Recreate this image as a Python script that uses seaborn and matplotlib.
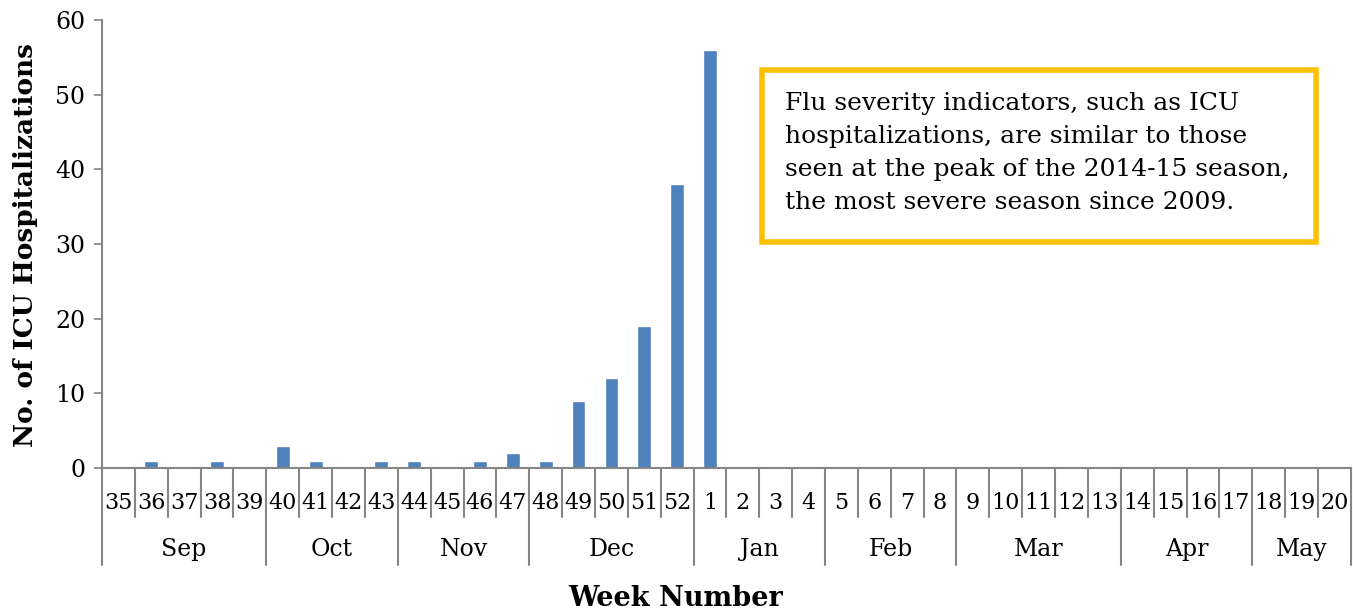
import seaborn as sns
import matplotlib.pyplot as plt
from matplotlib.patches import FancyBboxPatch
import pandas as pd

# weekly ICU hospitalizations, week 35 through week 20
weeks = ["35", "36", "37", "38", "39", "40", "41", "42", "43", "44", "45", "46",
         "47", "48", "49", "50", "51", "52", "1", "2", "3", "4", "5", "6", "7",
         "8", "9", "10", "11", "12", "13", "14", "15", "16", "17", "18", "19", "20"]
icu = [0, 1, 0, 1, 0, 3, 1, 0, 1, 1, 0, 1, 2, 1, 9, 12, 19, 38, 56,
       0, 0, 0, 0, 0, 0, 0, 0, 0, 0, 0, 0, 0, 0, 0, 0, 0, 0, 0]
months = ["Sep", "Oct", "Nov", "Dec", "Jan", "Feb", "Mar", "Apr", "May"]
weeks_per_month = [5, 4, 4, 5, 4, 4, 5, 4, 3]
note = ("Flu severity indicators, such as ICU\n"
        "hospitalizations, are similar to those\n"
        "seen at the peak of the 2014-15 season,\n"
        "the most severe season since 2009.")

sns.set_theme(style="white")
plt.rcParams['font.family'] = ['DejaVu Serif']
plt.rcParams['text.color'] = 'black'
plt.rcParams['ytick.color'] = 'black'

df = pd.DataFrame({"week": weeks, "icu": icu})

fig = plt.figure(figsize=(13.53, 6.12), dpi=100)
ax = fig.add_axes([0.0754, 0.2353, 0.923, 0.7317])

sns.barplot(data=df, x="week", y="icu", order=weeks, color="#4F81BD",
            width=0.42, saturation=1, ax=ax)

grey = "#868686"
ax.set_ylim(0, 60)
ax.set_xlim(-0.5, len(weeks) - 0.5)
ax.set_yticks(range(0, 61, 10))
ax.tick_params(axis="y", left=True, length=6, color=grey, labelsize=17, pad=6)
ax.set_xticks([])
ax.set_xlabel("")
ax.set_ylabel("")
for s in ["top", "right"]:
    ax.spines[s].set_visible(False)
for s in ["left", "bottom"]:
    ax.spines[s].set_color(grey)
    ax.spines[s].set_linewidth(1.5)

trans = ax.get_xaxis_transform()
# month boundaries
bounds = [-0.5]
for n in weeks_per_month:
    bounds.append(bounds[-1] + n)

for i in range(len(weeks) + 1):
    x = i - 0.5
    low = -0.217 if x in bounds else -0.109
    ax.plot([x, x], [0, low], color=grey, lw=1.5, transform=trans, clip_on=False)

for i, w in enumerate(weeks):
    ax.text(i, -0.078, w, transform=trans, ha="center", va="center", fontsize=16)

for m, a, b in zip(months, bounds[:-1], bounds[1:]):
    ax.text((a + b) / 2, -0.181, m, transform=trans, ha="center", va="center",
            fontsize=17)

fig.text(0.499, 0.022, "Week Number", ha="center", va="center",
         fontsize=19.5, fontweight="bold")
fig.text(0.019, 0.6, "No. of ICU Hospitalizations", ha="center", va="center",
         rotation=90, fontsize=19, fontweight="bold")

box = FancyBboxPatch((0.5635, 0.6046), 0.409, 0.281, boxstyle="square,pad=0",
                     transform=fig.transFigure, fill=False,
                     edgecolor="#FFC000", linewidth=4)
fig.patches.append(box)
fig.text(0.580, 0.750, note, ha="left", va="center", fontsize=18,
         linespacing=1.55)

fig.savefig("out.png", dpi=100)
